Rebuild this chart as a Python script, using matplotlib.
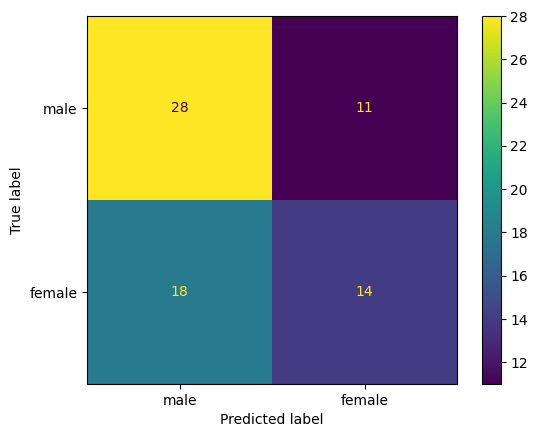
import matplotlib
matplotlib.use("Agg")
import matplotlib.pyplot as plt
import numpy as np

labels = ["male", "female"]
counts = np.array([[28, 11],
                   [18, 14]])

fig = plt.figure(figsize=(5.37, 4.38), dpi=100)
ax = fig.add_axes([87 / 537, 1 - 384 / 438, 370 / 537, 368 / 438])
cax = fig.add_axes([482 / 537, 1 - 384 / 438, 18.5 / 537, 368 / 438])

cmap = plt.get_cmap("viridis")
im = ax.imshow(counts, interpolation="nearest", cmap=cmap, aspect="auto")
lo, hi = counts.min(), counts.max()
thresh = (lo + hi) / 2.0
for i in range(counts.shape[0]):
    for j in range(counts.shape[1]):
        color = cmap(0) if counts[i, j] > thresh else cmap(1.0)
        ax.text(j, i, str(counts[i, j]), ha="center", va="center", color=color)

fig.colorbar(im, cax=cax)
ax.set_xticks(np.arange(len(labels)), labels=labels)
ax.set_yticks(np.arange(len(labels)), labels=labels)
ax.set_xlabel("Predicted label")
ax.set_ylabel("True label")

fig.savefig("out.png", dpi=100)
